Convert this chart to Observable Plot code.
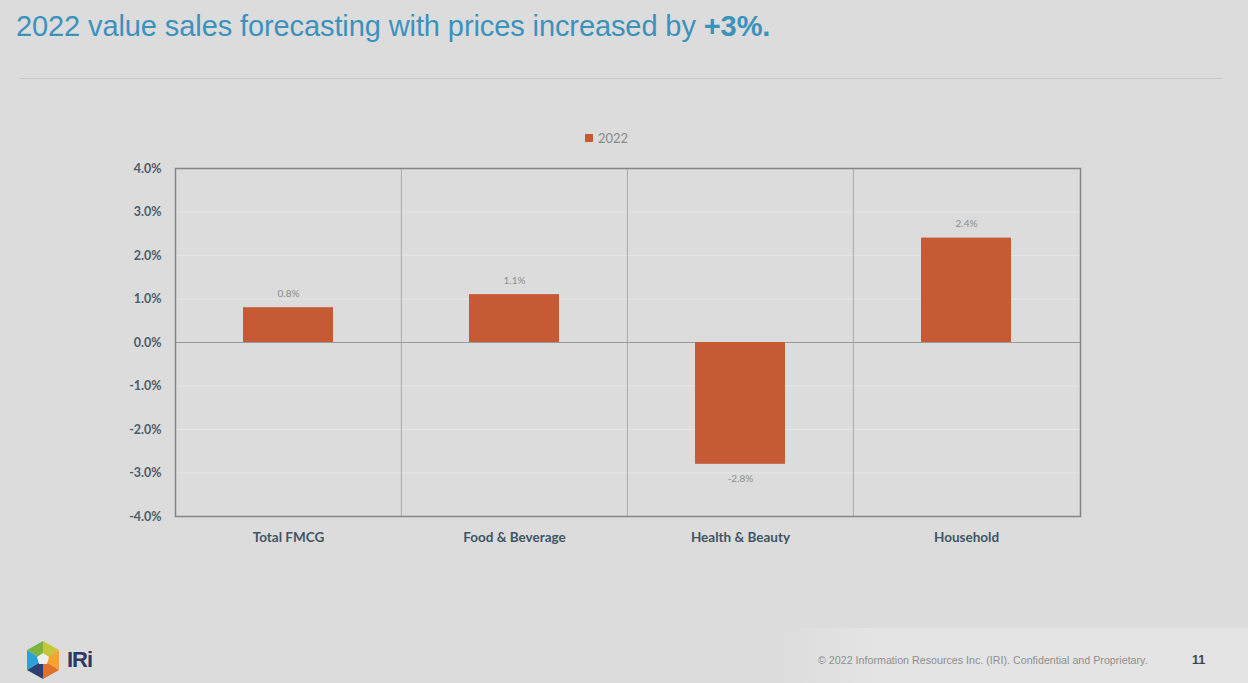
<!DOCTYPE html>
<html><head><meta charset="utf-8">
<script src="https://cdn.jsdelivr.net/npm/d3@7"></script>
<script src="https://cdn.jsdelivr.net/npm/@observablehq/plot@0.6"></script>
<style>
body{margin:0;background:#dcdcdc;width:1248px;height:683px;overflow:hidden;position:relative;font-family:"Liberation Sans",Arial,sans-serif}
#title{position:absolute;left:16px;top:10px;font-size:29px;color:#3a92bd;white-space:nowrap;letter-spacing:-0.1px}
#title b{font-weight:bold}
#rule{position:absolute;left:20px;top:78px;width:1202px;height:1px;background:#c8c8c8}
#chart{position:absolute;left:0;top:100px}
#legend{position:absolute;top:130px;left:585px;font-family:Lato,sans-serif;font-size:13px;color:#8a8a8a;display:flex;align-items:center}
#legend span.sw{display:inline-block;width:8px;height:8px;background:#c55a35;margin-right:5px}
#band{position:absolute;left:780px;top:628px;width:468px;height:55px;background:linear-gradient(to right,rgba(230,230,230,0),#e4e4e4 20%)}
#copy{position:absolute;left:818px;top:654px;font-size:10.7px;color:#8f8f8f;white-space:nowrap;letter-spacing:0px}
#page{position:absolute;left:1192px;top:653px;font-size:12.5px;font-weight:bold;color:#444}
#logo{position:absolute;left:25px;top:640px}
#iri{position:absolute;left:67px;top:647px;font-size:22px;font-weight:bold;color:#2b3a63;font-family:"Liberation Sans",Arial,sans-serif;letter-spacing:-1px}
</style>
</head><body>
<div id="title">2022 value sales forecasting with prices increased by <b>+3%.</b></div>
<div id="rule"></div>
<div id="legend"><span class="sw"></span>2022</div>
<div id="chart"></div>
<div id="band"></div>
<svg id="logo" width="36" height="40" viewBox="0 0 36 40">
  <polygon points="18,1 18,20 2,10" fill="#7cb342"/>
  <polygon points="18,1 34,10 18,20" fill="#c5c83a"/>
  <polygon points="34,10 34,30 18,20" fill="#f2a531"/>
  <polygon points="34,30 18,39 18,20" fill="#e0702a"/>
  <polygon points="18,39 2,30 18,20" fill="#2b3f70"/>
  <polygon points="2,30 2,10 18,20" fill="#2aa1d9"/>
  <polygon points="18,13 24,17 22,24 14,24 12,17" fill="#eeeeee"/>
</svg>
<div id="iri">IRi</div>
<div id="copy">© 2022 Information Resources Inc. (IRI). Confidential and Proprietary.</div>
<div id="page">11</div>
<script>
const categories = ["Total FMCG", "Food & Beverage", "Health & Beauty", "Household"];
const values2022 = [0.008, 0.011, -0.028, 0.024];
const yTicks = [-0.04, -0.03, -0.02, -0.01, 0, 0.01, 0.02, 0.03, 0.04];

const data = categories.map((c, i) => ({category: c, value: values2022[i]}));
const fmt = v => (v * 100).toFixed(1) + "%";

const W = 1248, mL = 175, mR = 168;
const step = (W - mL - mR) / categories.length;

const chart = Plot.plot({
  width: W,
  height: 470,
  marginLeft: mL,
  marginRight: mR,
  marginTop: 68,
  marginBottom: 54,
  style: {background: "transparent", color: "#4a5d6c", fontFamily: "Lato, sans-serif", overflow: "visible"},
  x: {domain: categories, paddingInner: 0.6, paddingOuter: 0.3, label: null},
  y: {domain: [-0.04, 0.04], label: null},
  marks: [
    Plot.gridY(yTicks, {stroke: "#e6e6e6", strokeOpacity: 1}),
    Plot.ruleX(categories.slice(1), {stroke: "#a8a8a8", dx: -step / 2}),
    Plot.ruleY([0], {stroke: "#9a9a9a"}),
    Plot.barY(data, {x: "category", y: "value", fill: "#c55a35"}),
    Plot.text(data.filter(d => d.value >= 0), {x: "category", y: "value", text: d => fmt(d.value), dy: -14, fill: "#8c8c8c", fontSize: 10}),
    Plot.text(data.filter(d => d.value < 0), {x: "category", y: "value", text: d => fmt(d.value), dy: 14, fill: "#8c8c8c", fontSize: 10}),
    Plot.axisY(yTicks, {tickSize: 0, tickPadding: 14, tickFormat: fmt, fontSize: 12.5, fontWeight: "bold", fill: "#4a5d6c"}),
    Plot.axisX({tickSize: 0, tickPadding: 16, fontSize: 13.5, fontWeight: "bold", fill: "#3f5566"}),
    Plot.frame({stroke: "#858585", strokeWidth: 1.5})
  ]
});
document.getElementById("chart").appendChild(chart);
</script>
</body></html>
